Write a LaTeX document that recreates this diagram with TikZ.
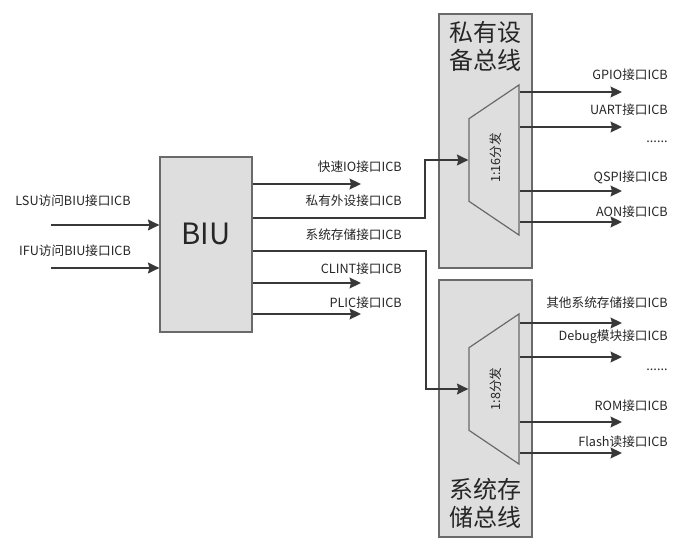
\documentclass[tikz,border=0pt]{standalone}
\usepackage{fontspec}
\setmainfont{Noto Sans CJK SC}
\usepackage{tikz}
\usetikzlibrary{arrows.meta,positioning,shapes.geometric,fit}
\definecolor{boxfill}{HTML}{DEDEDE}
\definecolor{boxline}{HTML}{6A6A6A}
\definecolor{wire}{HTML}{383838}
\definecolor{ink}{HTML}{262626}

\begin{document}
\begin{tikzpicture}[
  x=0.75pt, y=-0.75pt,
  box/.style={draw=boxline,fill=boxfill,line width=0.9pt,inner sep=0pt},
  demux/.style={draw=boxline,line width=0.9pt,trapezium,trapezium angle=56,
    text height=7pt,text depth=2pt,inner xsep=31pt,inner ysep=14.25pt},
  lbl/.style={font=\fontsize{9.5}{11}\selectfont,text=ink,inner sep=0pt},
  title/.style={font=\fontsize{18}{21}\selectfont,text=ink,align=center,inner sep=0pt},
  arrow/.style={draw=wire,line width=1.5pt,-{Stealth[length=8.5pt,width=8pt,inset=1pt]}},
]
  \useasboundingbox (0,0) rectangle (700,541);

  % Blocks
  \node[box,fit={(160,157) (252,332)},font=\fontsize{22}{24}\selectfont,text=ink] (biu) {BIU};
  \node[box,fit={(439,14) (532,268)}] (privbus) {};
  \node[box,fit={(439,280) (532,537)}] (sysbus) {};
  \node[title] (privtitle) at (485,46) {私有设\\备总线};
  \node[title] (systitle) at (485,503) {系统存\\储总线};
  \node[demux,rotate=90] (privdemux) at (494,160) {};
  \node[demux,rotate=90] (sysdemux) at (494,389) {};
  \node[lbl,rotate=90] (privsplit) at (496,158) {1:16分发};
  \node[lbl,rotate=90] (syssplit) at (496,389) {1:8分发};

  % Inputs to BIU
  \node[lbl] (lsu) at (73,201) {LSU访问BIU接口ICB};
  \node[lbl] (ifu) at (75,251) {IFU访问BIU接口ICB};
  \coordinate (lsuin) at (51,225);
  \coordinate (ifuin) at (51,268);
  \draw[arrow] (lsuin) -- (biu.west |- lsuin);
  \draw[arrow] (ifuin) -- (biu.west |- ifuin);

  % Outputs of BIU
  \node[lbl,anchor=east] (fastio) at (402,167) {快速IO接口ICB};
  \node[lbl,anchor=east] (privper) at (402,201) {私有外设接口ICB};
  \node[lbl,anchor=east] (sysmem) at (402,235) {系统存储接口ICB};
  \node[lbl,anchor=east] (clint) at (402,269) {CLINT接口ICB};
  \node[lbl,anchor=east] (plic) at (402,303) {PLIC接口ICB};
  \coordinate (fastioend) at (361,184);
  \coordinate (clintend) at (361,283);
  \coordinate (plicend) at (361,314);
  \draw[arrow] (biu.east |- fastioend) -- (fastioend);
  \draw[arrow] (biu.east |- clintend) -- (clintend);
  \draw[arrow] (biu.east |- plicend) -- (plicend);
  \draw[arrow] (biu.east |- 0,218) -| (425,160) -- (privdemux.north);
  \draw[arrow] (biu.east |- 0,251) -| (426,389) -- (sysdemux.north);

  % Private peripheral bus ports
  \node[lbl,anchor=east] (gpio) at (668,75) {GPIO接口ICB};
  \node[lbl,anchor=east] (uart) at (668,110) {UART接口ICB};
  \node[lbl] (privdots) at (657,142) {......};
  \node[lbl,anchor=east] (qspi) at (668,177) {QSPI接口ICB};
  \node[lbl,anchor=east] (aon) at (668,212) {AON接口ICB};
  \coordinate (gpioend) at (622,92);
  \coordinate (uartend) at (622,127);
  \coordinate (qspiend) at (622,191);
  \coordinate (aonend) at (622,222);
  \draw[arrow] (privdemux.south |- gpioend) -- (gpioend);
  \draw[arrow] (privdemux.south |- uartend) -- (uartend);
  \draw[arrow] (privdemux.south |- qspiend) -- (qspiend);
  \draw[arrow] (privdemux.south |- aonend) -- (aonend);

  % System memory bus ports
  \node[lbl,anchor=east] (othermem) at (668,303) {其他系统存储接口ICB};
  \node[lbl,anchor=east] (debug) at (668,337) {Debug模块接口ICB};
  \node[lbl] (sysdots) at (657,370) {......};
  \node[lbl,anchor=east] (rom) at (668,406) {ROM接口ICB};
  \node[lbl,anchor=east] (flash) at (668,442) {Flash读接口ICB};
  \coordinate (othermemend) at (622,323);
  \coordinate (debugend) at (622,357);
  \coordinate (romend) at (622,422);
  \coordinate (flashend) at (622,453);
  \draw[arrow] (sysdemux.south |- othermemend) -- (othermemend);
  \draw[arrow] (sysdemux.south |- debugend) -- (debugend);
  \draw[arrow] (sysdemux.south |- romend) -- (romend);
  \draw[arrow] (sysdemux.south |- flashend) -- (flashend);
\end{tikzpicture}
\end{document}
